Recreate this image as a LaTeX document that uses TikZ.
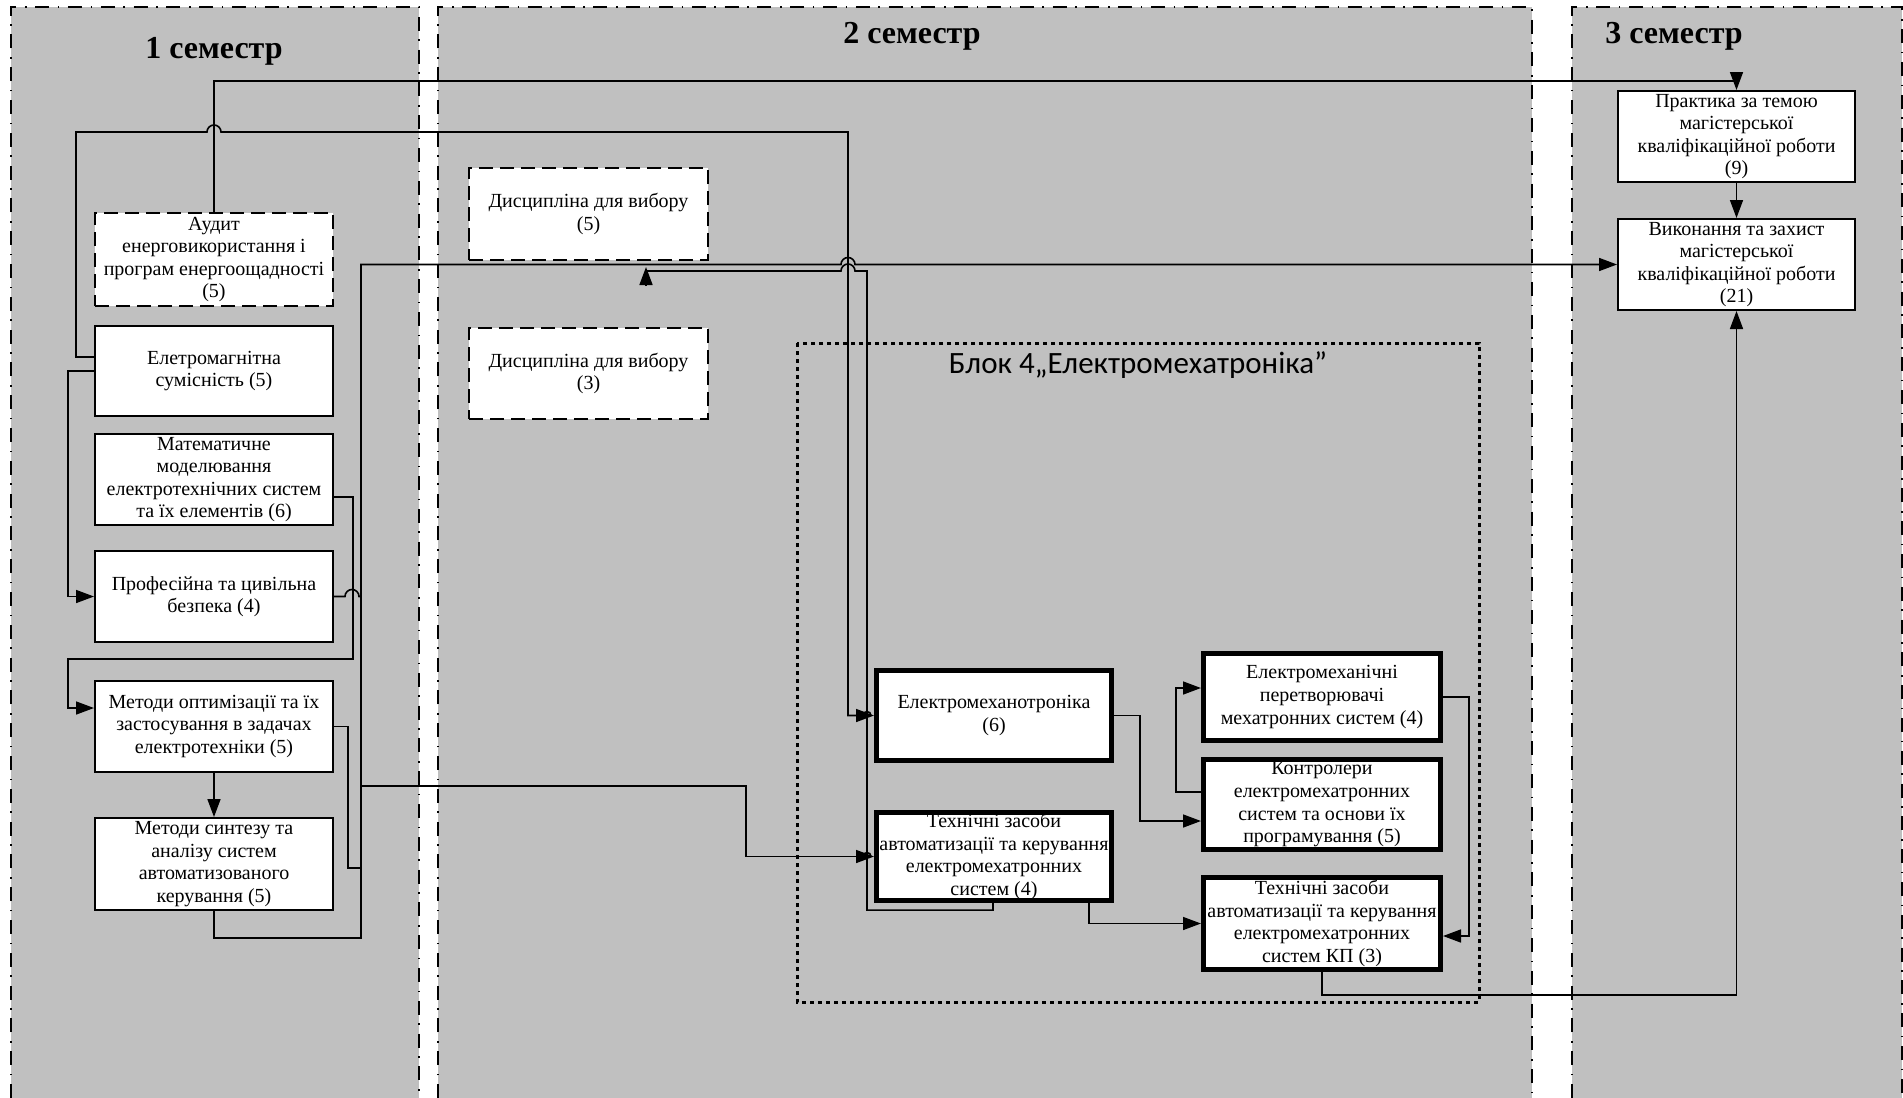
\documentclass[tikz,border=0pt]{standalone}
\usepackage{fontspec}
\setmainfont{Liberation Serif}
\newfontfamily\blockfont{Carlito}
\usetikzlibrary{arrows.meta}
\definecolor{colgray}{HTML}{C0C0C0}
\begin{document}
\begin{tikzpicture}[x=0.5pt,y=-0.5pt,
  colborder/.style={draw=black, line width=1pt, dash pattern=on 7pt off 4.3pt on 0.8pt off 4.3pt},
  box/.style={draw=black, fill=white, line width=1pt, minimum width=119pt, inner sep=0.5pt, align=center, font=\fontsize{10}{11.3}\selectfont},
  dbox/.style={box, dash pattern=on 7pt off 3.5pt},
  tbox/.style={box, line width=2.5pt, minimum width=117.5pt},
  conn/.style={line width=0.8pt},
  arr/.style={conn, -{Triangle[length=9pt,width=6.5pt]}},
  title/.style={font=\bfseries\fontsize{16}{19}\selectfont, anchor=base},
  blockborder/.style={draw=black, line width=1.5pt, dash pattern=on 2.2pt off 1.8pt}
]
\useasboundingbox (0,0) rectangle (1903,1098);
\fill[white] (0,0) rectangle (1903,1098);
% columns
\fill[colgray] (11,7) rectangle (419,1098);
\draw[colborder] (11,1098) -- (11,7) -- (419,7) -- (419,1098);
\fill[colgray] (438,7) rectangle (1532,1098);
\draw[colborder] (438,1098) -- (438,7) -- (1532,7) -- (1532,1098);
\fill[colgray] (1572,7) rectangle (1902,1098);
\draw[colborder] (1572,1098) -- (1572,7) -- (1902,7) -- (1902,1098);

% titles
\node[title] (s1) at (214,58) {1 семестр};
\node[title] (s2) at (912,43) {2 семестр};
\node[title] (s3) at (1674,43) {3 семестр};

% block 4 frame
\draw[blockborder] (797,343) rectangle (1479,1002);
\node[font=\blockfont\fontsize{15.5}{18}\selectfont, anchor=base] (blk) at (1138,373) {Блок 4„Електромехатроніка”};

% column 1
\node[dbox, minimum height=46.5pt] (aud) at (214,259.5) {Аудит\\енерговикористання і\\програм енергоощадності\\(5)};
\node[box, minimum height=45pt] (emc) at (214,371) {Елетромагнітна\\сумісність (5)};
\node[box, minimum height=45.5pt] (mat) at (214,479.5) {Математичне\\моделювання\\електротехнічних систем\\та їх елементів (6)};
\node[box, minimum height=45.5pt] (prof) at (214,596.5) {Професійна та цивільна\\безпека (4)};
\node[box, minimum height=45.5pt] (opt) at (214,726.5) {Методи оптимізації та їх\\застосування в задачах\\електротехніки (5)};
\node[box, minimum height=46pt] (syn) at (214,864) {Методи синтезу та\\аналізу систем\\автоматизованого\\керування (5)};

% column 2
\node[dbox, minimum width=119.5pt, minimum height=46pt] (d5) at (588.5,214) {Дисципліна для вибору\\(5)};
\node[dbox, minimum width=119.5pt, minimum height=45.5pt] (d3) at (588.5,373.5) {Дисципліна для вибору\\(3)};

% column 3
\node[box, minimum width=118.5pt, minimum height=45.5pt] (prak) at (1736.5,136.5) {Практика за темою\\магістерської\\кваліфікаційної роботи\\(9)};
\node[box, minimum width=118.5pt, minimum height=45.5pt] (vyk) at (1736.5,264.5) {Виконання та захист\\магістерської\\кваліфікаційної роботи\\(21)};

% block 4 nodes
\node[tbox, minimum height=45pt] (emt) at (994,715.5) {Електромеханотроніка\\(6)};
\node[tbox, minimum height=44pt] (ts4) at (994,856.5) {Технічні засоби\\автоматизації та керування\\електромехатронних\\систем (4)};
\node[tbox, minimum width=118.5pt, minimum height=43.5pt] (emp) at (1322,697) {Електромеханічні\\перетворювачі\\мехатронних систем (4)};
\node[tbox, minimum width=118.5pt, minimum height=45pt] (kon) at (1322,804.5) {Контролери\\електромехатронних\\систем та основи їх\\програмування (5)};
\node[tbox, minimum width=118.5pt, minimum height=46pt] (kp) at (1322,923.5) {Технічні засоби\\автоматизації та керування\\електромехатронних\\систем КП (3)};

% connectors
\draw[arr] (aud.north) -- ++(0,-131) -| (prak.north);
\draw[arr] (prak.south) -- (vyk.north);
\draw[arr] ([yshift=7pt]emc.west) -- ++(-18,0) |- (207,132) arc[start angle=180,end angle=0,radius=3.5pt] -- (848,132) |- (emt.west);
\draw[conn] (863,715.5) arc[start angle=180,end angle=0,radius=2pt];
\draw[arr] (emc.west) -- ++(-26,0) |- (prof.west);
\draw[arr] ([yshift=-8.75pt]mat.east) -- ++(19,0) -- ++(0,162) -- (68,659) |- ([yshift=9.25pt]opt.west);
\draw[arr] (opt.south) -- (syn.north);
\draw[arr] (syn.south) -- ++(0,27) -| (361,264.5) -- (841,264.5) arc[start angle=180,end angle=0,radius=3.5pt] -- (vyk.west);
\draw[conn] (prof.east) -- (345,596.5) arc[start angle=180,end angle=0,radius=3.5pt] -- (361,596.5);
\draw[conn] (opt.east) -- ++(14,0) |- (361,868);
\coordinate (bus) at (361,786);
\draw[arr] (bus) -| (746,856.5) -- (ts4.west);
\draw[conn] (863,856.5) arc[start angle=180,end angle=0,radius=2pt];
\draw[conn] ([xshift=-0.5pt]ts4.south) -- ++(0,7) -| (867,271) -- (855,271) arc[start angle=0,end angle=180,radius=3.5pt] -- (646,271);
\draw[arr] (646,286) -- ([xshift=28.75pt,yshift=-3pt]d5.south);
\draw[arr] (emt.east) -- ++(26,0) |- ([yshift=-8.25pt]kon.west);
\draw[arr] ([yshift=6.25pt]kon.west) -- ++(-25,0) |- ([yshift=4.5pt]emp.west);
\draw[arr] (emp.east) -- ++(26,0) |- ([yshift=-6.25pt]kp.east);
\draw[arr] ([xshift=47.5pt]ts4.south) |- (kp.west);
\draw[arr] (kp.south) -- ++(0,23) -| (vyk.south);
\end{tikzpicture}
\end{document}
